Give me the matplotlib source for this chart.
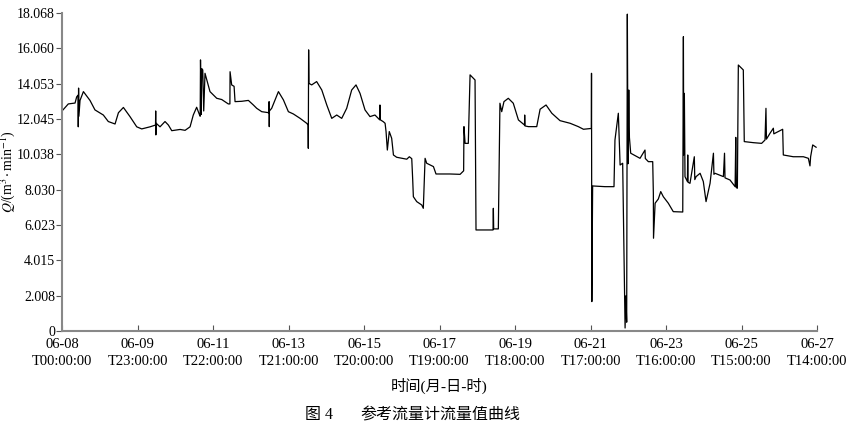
import matplotlib
matplotlib.use("Agg")
import matplotlib.pyplot as plt

plt.rcParams['font.family'] = ['Liberation Serif', 'Noto Sans CJK SC']
plt.rcParams['mathtext.fontset'] = 'stix'

# hours since 06-08 00:00 and flow value (m3/min)
hours = [0, 3.9, 8.1, 9.1, 10.0, 10.1, 10.3, 10.5, 11.2, 13.3, 17.4, 20.5, 25.7,
         28.8, 33.0, 35.1, 38.2, 42.3, 46.5, 49.6, 54.8, 58.2, 58.3, 58.4, 58.6,
         61.0, 64.1, 66.2, 68.3, 73.5, 76.6, 79.7, 81.7, 83.8, 85.5, 86.0, 86.2,
         86.6, 87.0, 87.6, 88.2, 89.0, 92.1, 96.3, 99.4, 103.5, 104.5, 104.6,
         105.6, 107.1, 107.7, 111.9, 116.0, 119.1, 121.2, 124.3, 128.4, 128.8,
         128.9, 129.0, 129.1, 130.5, 134.7, 137.8, 140.9, 144.0, 148.2, 152.3,
         153.2, 153.3, 153.5, 153.7, 155.4, 158.5, 161.7, 164.8, 167.9, 171.0,
         174.1, 177.2, 180.3, 183.0, 185.5, 188.6, 191.7, 194.8, 197.7, 197.9,
         198.1, 200.0, 201.1, 201.7, 202.5, 203.7, 205.2, 206.3, 208.3, 214.6,
         216.2, 217.7, 218.3, 218.7, 220.8, 223.9, 224.9, 226.0, 227.0, 231.2,
         232.8, 241.5, 247.8, 249.4, 250.0, 250.2, 250.9, 252.9, 254.0, 257.1,
         257.7, 268.3, 268.5, 268.7, 271.6, 272.6, 273.7, 275.1, 277.8, 280.9,
         284.1, 287.2, 287.9, 288.0, 288.2, 290.3, 295.5, 297.6, 301.3, 304.9,
         310.0, 316.3, 321.4, 324.6, 328.7, 329.5, 329.6, 329.8, 330.3, 338.0,
         343.6, 344.2, 346.3, 347.4, 349.0, 349.4, 350.5, 351.0, 351.5, 351.9,
         352.3, 352.8, 353.2, 354.0, 359.8, 362.9, 363.1, 365.0, 367.7, 368.1,
         368.2, 369.2, 371.2, 372.7, 374.3, 377.4, 380.5, 386.4, 386.8, 387.0,
         387.4, 387.8, 389.3, 389.5, 389.7, 390.9, 393.6, 393.9, 394.7, 397.2,
         399.2, 400.9, 403.4, 405.5, 405.8, 406.5, 411.7, 412.4, 412.7, 415.8,
         419.0, 419.4, 419.7, 420.4, 421.0, 424.1, 424.7, 430.3, 435.5, 437.6,
         438.2, 438.5, 440.7, 442.8, 443.1, 445.9, 448.6, 449.0, 455.2, 461.5,
         464.6, 465.6, 466.0, 467.3, 469.4]
flow = [12.5, 12.9, 12.95, 13.3, 13.4, 11.6, 13.8, 12.2, 13.1, 13.6, 13.1, 12.56, 12.27,
        11.9, 11.76, 12.4, 12.7, 12.18, 11.6, 11.48, 11.6, 11.7, 12.5, 11.14, 11.8,
        11.6, 11.9, 11.7, 11.38, 11.45, 11.4, 11.6, 12.27, 12.71, 12.3, 12.2, 15.4,
        12.3, 14.9, 14.83, 12.5, 14.64, 13.6, 13.22, 13.15, 12.9, 12.9, 14.73,
        13.98, 13.9, 13.03, 13.05, 13.1, 12.84, 12.65, 12.46, 12.4, 12.4,
        13.03, 11.61, 12.5, 12.65, 13.6, 13.13, 12.46, 12.33, 12.08, 11.8,
        11.7, 10.38, 15.97, 14.07, 13.98, 14.17, 13.69, 12.84, 12.08, 12.27,
        12.08, 12.65, 13.69, 13.98, 13.5, 12.56, 12.18, 12.27, 12.0, 12.84,
        12.0, 11.89, 11.8, 11.33, 10.28, 11.33, 10.95, 10.0, 9.87, 9.76,
        9.9, 9.79, 8.58, 7.63, 7.35, 7.16, 6.97, 9.81, 9.53, 9.34,
        8.92, 8.92, 8.9, 9.05, 9.1, 11.61, 10.66, 10.66, 14.55, 14.26,
        5.74, 5.74, 6.97, 5.8, 5.8, 12.94, 12.46, 13.03, 13.22, 12.94,
        11.99, 11.76, 11.7, 12.27, 11.65, 11.61, 11.61, 12.6, 12.84, 12.37,
        11.95, 11.8, 11.61, 11.46, 11.5, 11.5, 14.64, 1.67, 8.24, 8.2,
        8.2, 10.85, 12.37, 9.43, 9.53, 7.0, 0.17, 2.0, 0.5, 18.0,
        9.5, 13.69, 11.0, 10.1, 9.81, 10.28, 9.8, 9.62, 9.62, 7.82,
        5.27, 7.26, 7.5, 7.92, 7.63, 7.26, 6.78, 6.76, 16.72, 10.0,
        13.5, 8.77, 8.49, 10.0, 8.45, 8.39, 9.9, 8.6, 8.77, 8.96,
        8.49, 7.35, 8.39, 10.1, 8.9, 8.96, 8.77, 10.1, 8.7, 8.58,
        8.2, 11.0, 8.15, 8.11, 15.11, 14.83, 10.76, 10.7, 10.66, 10.85,
        12.65, 10.9, 11.23, 11.52, 11.2, 11.33, 11.46, 10.0, 9.9, 9.9,
        9.81, 9.38, 9.9, 10.57, 10.44]

xtick_hours = [0, 47, 94, 141, 188, 235, 282, 329, 376, 423, 470]
xtick_labels = ["06-08\nT00:00:00", "06-09\nT23:00:00", "06-11\nT22:00:00",
                "06-13\nT21:00:00", "06-15\nT20:00:00", "06-17\nT19:00:00",
                "06-19\nT18:00:00", "06-21\nT17:00:00", "06-23\nT16:00:00",
                "06-25\nT15:00:00", "06-27\nT14:00:00"]
ytick_vals = [0, 2.008, 4.015, 6.023, 8.030, 10.038, 12.045, 14.053, 16.060, 18.068]
ytick_labels = ["0", "2.008", "4.015", "6.023", "8.030", "10.038", "12.045",
                "14.053", "16.060", "18.068"]

fig = plt.figure(figsize=(8.51, 4.32), dpi=100)
ax = fig.add_axes([0.0729, 0.2338, 0.8872, 0.7362])

ax.plot(hours, flow, color='black', lw=0.9)

ax.set_xlim(0, 470)
ax.set_ylim(0, 18.068)
ax.set_xticks(xtick_hours)
ax.set_xticklabels(xtick_labels, fontsize=10.5, linespacing=1.45)
ax.set_yticks(ytick_vals)
ax.set_yticklabels(ytick_labels, fontsize=10)

for side in ['top', 'right']:
    ax.spines[side].set_visible(False)
for side in ['left', 'bottom']:
    ax.spines[side].set_color('#888888')
    ax.spines[side].set_linewidth(1.5)
ax.tick_params(axis='x', direction='in', length=4, color='#555555', pad=5)
ax.tick_params(axis='y', direction='out', length=4, color='#555555', pad=1)

ax.set_ylabel(r"$Q$/(m$^3\cdot$min$^{-1}$)", fontsize=10)
ax.yaxis.set_label_coords(-0.059, 0.5)
ax.set_xlabel("时间(月-日-时)", fontsize=11, labelpad=7)

fig.text(305 / 851, 0.03, "图 4", ha='left', fontsize=11.5)
fig.text(360 / 851, 0.03, "参考流量计流量值曲线", ha='left', fontsize=11.5)

fig.savefig("out.png", dpi=100)
